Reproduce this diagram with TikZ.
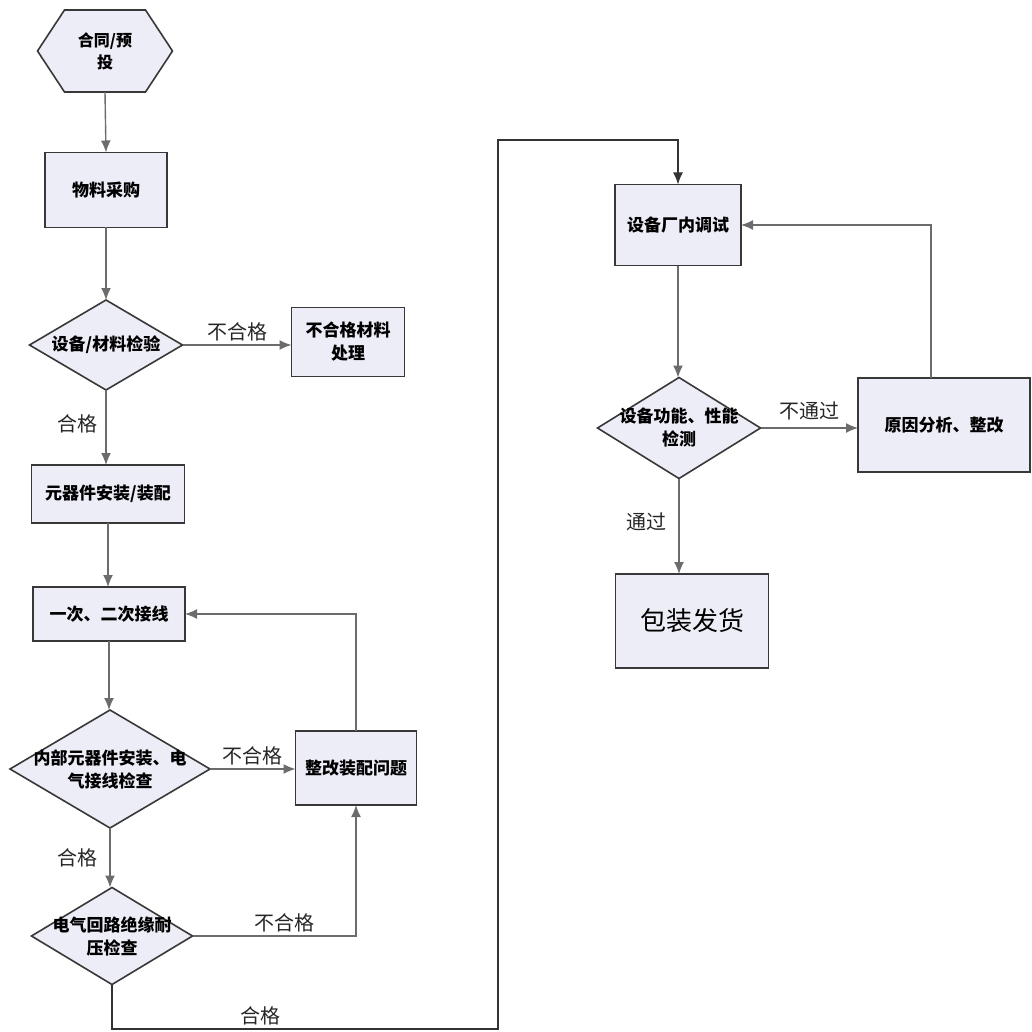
\documentclass[tikz,border=0pt]{standalone}
\usepackage{fontspec}
\newfontfamily\cjk{Noto Sans CJK SC}
\usetikzlibrary{arrows.meta,shapes.geometric,backgrounds}

\definecolor{boxfill}{HTML}{EDEDF7}
\definecolor{boxline}{HTML}{383838}
\definecolor{flowline}{HTML}{6C6C6C}

\begin{document}
\begin{tikzpicture}[x=1pt,y=-1pt,
    box/.style={draw=boxline, fill=boxfill, line width=1.6pt, outer sep=0pt, inner sep=0pt,
      align=center, font=\cjk\bfseries\fontsize{17}{23}\selectfont},
    check/.style={diamond, draw=boxline, fill=boxfill, line width=1.6pt, outer sep=0pt, inner sep=0pt},
    dtext/.style={align=center, font=\cjk\bfseries\fontsize{17}{23}\selectfont},
    flow/.style={draw=flowline, line width=1.4pt, -{Latex[length=12pt,width=10pt]}},
    pass/.style={font=\cjk\fontsize{20}{23}\selectfont, text=black!85}]
    \useasboundingbox (0,0) rectangle (1032,1032);

    % 左列
    \node[align=center, outer sep=0pt, minimum width=135, minimum height=82,
      font=\cjk\bfseries\fontsize{16}{22}\selectfont] (hex) at (105,51) {合同/预\\投};
    \begin{scope}[on background layer]
        \draw[draw=boxline, fill=boxfill, line width=1.6pt] (hex.west) -- ([xshift=27]hex.north west)
            -- ([xshift=-27]hex.north east) -- (hex.east) -- ([xshift=-27]hex.south east)
            -- ([xshift=27]hex.south west) -- cycle;
    \end{scope}
    \node[box, minimum width=122, minimum height=75] (buy) at (106,190) {物料采购};
    \node[check, minimum width=153, minimum height=90,
      label={[dtext]center:设备/材料检验}] (chk1) at (106,345) {};
    \node[box, minimum width=113, minimum height=69] (bad) at (348,342) {不合格材料\\处理};
    \node[box, minimum width=153, minimum height=58] (install) at (108,494) {元器件安装/装配};
    \node[box, minimum width=152, minimum height=54] (wire) at (109,614) {一次、二次接线};
    \node[check, minimum width=200, minimum height=118,
      label={[dtext]center:内部元器件安装、电\\气接线检查}] (chk2) at (110,769) {};
    \node[box, minimum width=121, minimum height=74] (fix) at (356,768) {整改装配问题};
    \node[check, minimum width=161, minimum height=97,
      label={[dtext]center:电气回路绝缘耐\\压检查}] (chk3) at (112,936) {};

    % 右列
    \node[box, minimum width=126, minimum height=81] (debug) at (678,225) {设备厂内调试};
    \node[check, minimum width=163, minimum height=101,
      label={[dtext]center:设备功能、性能\\检测}] (chk4) at (679,428) {};
    \node[box, minimum width=172, minimum height=94] (cause) at (944,425) {原因分析、整改};
    \node[box, minimum width=153, minimum height=94,
      font=\cjk\fontsize{26}{28}\selectfont] (pack) at (692,621) {包装发货};

    \coordinate (low) at (498,1029);
    \coordinate (high) at (498,140);

    % 连线
    \draw[flow] (hex.south) -- (buy.north);
    \draw[flow] (buy.south) -- (chk1.north);
    \draw[flow] (chk1.east) -- (chk1.east -| bad.west) node[pass, midway, above] {不合格};
    \draw[flow] (chk1.south) -- (chk1.south |- install.north) node[pass, pos=0.45, left=4pt] {合格};
    \draw[flow] (install.south) -- (install.south |- wire.north);
    \draw[flow] (wire.south) -- (wire.south |- chk2.north);
    \draw[flow] (chk2.east) -- (chk2.east -| fix.west) node[pass, midway, above] {不合格};
    \draw[flow] (fix.north) |- (wire.east);
    \draw[flow] (chk2.south) -- (chk2.south |- chk3.north) node[pass, pos=0.5, left=8pt] {合格};
    \draw[flow] (chk3.east) -| (fix.south) node[pass, pos=0.28, above] {不合格};
    \draw[flow, draw=black!80] (chk3.south) |- (low) -- (high) -| (debug.north);
    \node[pass] (ok) at (260,1016) {合格};
    \draw[flow] (debug.south) -- (debug.south |- chk4.north);
    \draw[flow] (chk4.east) -- (chk4.east -| cause.west) node[pass, midway, above=4pt] {不通过};
    \draw[flow] ([xshift=-13]cause.north) |- (debug.east);
    \draw[flow] (chk4.south) -- (chk4.south |- pack.north) node[pass, pos=0.45, left=8pt] {通过};
\end{tikzpicture}
\end{document}
